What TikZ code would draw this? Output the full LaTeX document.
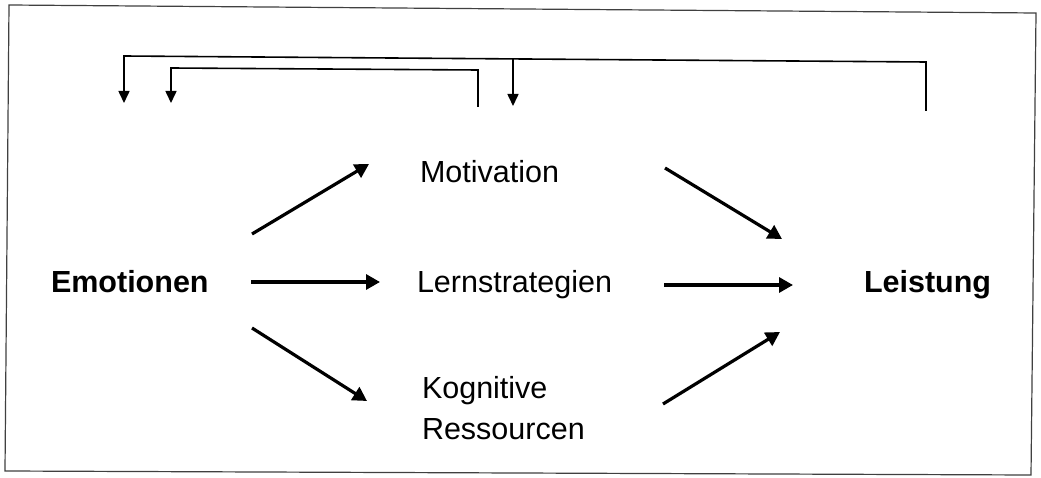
\documentclass[tikz,border=0pt]{standalone}
\usepackage{fontspec}
\setmainfont{Liberation Sans}
\usetikzlibrary{arrows.meta}
\begin{document}
\begin{tikzpicture}[x=1pt,y=-1pt,
  lbl/.style={inner sep=0pt, outer sep=0pt, anchor=base west, font=\fontsize{30.5}{41}\selectfont},
  bold/.style={font=\fontsize{30.5}{41}\selectfont\bfseries},
  main/.style={line width=3.2pt, -{Triangle[length=14pt,width=15pt]}},
  fb/.style={line width=1.6pt, -{Triangle[length=12pt,width=11pt]}},
  frame/.style={line width=1.2pt, draw=black!75}]
\useasboundingbox (0,0) rectangle (1041,478);
\fill[white] (0,0) rectangle (1041,478);
% frame
\draw[frame] (9,5) -- (1036,13) -- (1031,475) -- (5,471) -- cycle;
% labels
\node[lbl,bold] (emo) at (51,292) {Emotionen};
\node[lbl] (mot) at (420,183) {Motivation};
\node[lbl] (lern) at (417,292) {Lernstrategien};
\node[lbl,align=left] (kog) at (422,439) {Kognitive\\Ressourcen};
\node[lbl,bold] (leis) at (864,293) {Leistung};
% arrow end points
\coordinate (em0) at (252,234); \coordinate (em1) at (369,164);
\coordinate (el0) at (251,282); \coordinate (el1) at (380,282);
\coordinate (ek0) at (252,328); \coordinate (ek1) at (367,401);
\coordinate (ml0) at (665,168); \coordinate (ml1) at (782,239);
\coordinate (ll0) at (664,285); \coordinate (ll1) at (793,285);
\coordinate (kl0) at (663,404); \coordinate (kl1) at (780,332);
\draw[main] (em0) -- (em1);
\draw[main] (el0) -- (el1);
\draw[main] (ek0) -- (ek1);
\draw[main] (ml0) -- (ml1);
\draw[main] (ll0) -- (ll1);
\draw[main] (kl0) -- (kl1);
% feedback loops
\coordinate (fo0) at (926,111); \coordinate (fo1) at (926,62);
\coordinate (fo2) at (124,56);  \coordinate (fo3) at (124,103);
\coordinate (fm0) at (513,58.9); \coordinate (fm1) at (513,106);
\coordinate (fi0) at (478,107); \coordinate (fi1) at (478,70);
\coordinate (fi2) at (171,68);  \coordinate (fi3) at (171,103);
\draw[fb] (fo0) -- (fo1) -- (fo2) -- (fo3);
\draw[fb] (fm0) -- (fm1);
\draw[fb] (fi0) -- (fi1) -- (fi2) -- (fi3);
\end{tikzpicture}
\end{document}
